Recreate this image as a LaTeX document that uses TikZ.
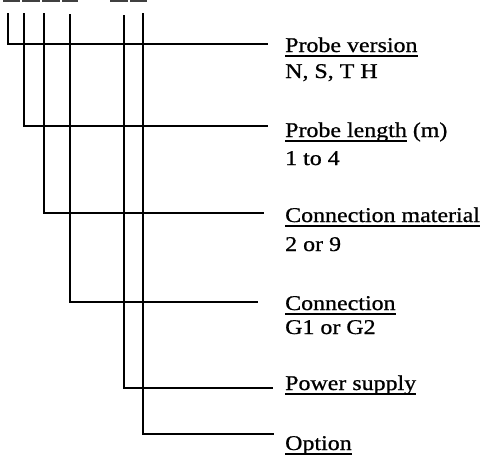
\documentclass[tikz,border=0pt]{standalone}
\usepackage{fontspec}
\setmainfont{Liberation Serif}[FakeStretch=1.14,FakeBold=0.8]
\newcommand{\ulabel}[1]{\setbox0\hbox{#1}\rlap{\rule[-4.5pt]{\wd0}{1.6pt}}\box0\relax}
\begin{document}
\begin{tikzpicture}[x=1pt,y=-1pt,
  conn/.style={line width=1.7pt, line cap=rect},
  lbl/.style={anchor=base west, inner sep=0pt, font=\fontsize{21}{24}\selectfont},
  frag/.style={fill=black!75}]
\useasboundingbox (0,0) rectangle (480,464);
% cut-off fragments at the top edge
\fill[frag] (3,0) rectangle (20,2.2);
\fill[frag] (22,0) rectangle (40,2.2);
\fill[frag] (42,0) rectangle (60,2.2);
\fill[frag] (62,0) rectangle (78,2.2);
\fill[frag] (110,0) rectangle (128,2.2);
\fill[frag] (130,0) rectangle (147,2.2);
% labels
\node[lbl] (v1) at (285,52) {\ulabel{Probe version}};
\node[lbl] (v1b) at (285,78) {N, S, T H};
\node[lbl] (v2) at (285,137) {\ulabel{Probe length} (m)};
\node[lbl] (v2b) at (285,165) {1 to 4};
\node[lbl] (v3) at (285,222) {\ulabel{Connection material}};
\node[lbl] (v3b) at (285,251) {2 or 9};
\node[lbl] (v4) at (285,310) {\ulabel{Connection}};
\node[lbl] (v4b) at (285,334) {G1 or G2};
\node[lbl] (v5) at (285,390) {\ulabel{Power supply}};
\node[lbl] (v6) at (285,450) {\ulabel{Option}};
% connector endpoints
\coordinate (t1) at (8,14);   \coordinate (e1) at (267,44);
\coordinate (t2) at (24,14);  \coordinate (e2) at (267,126);
\coordinate (t3) at (44,14);  \coordinate (e3) at (263,213);
\coordinate (t4) at (70,15);  \coordinate (e4) at (257,302);
\coordinate (t5) at (124,16); \coordinate (e5) at (272,388);
\coordinate (t6) at (143,14); \coordinate (e6) at (273,434);
\draw[conn] (t1) |- (e1);
\draw[conn] (t2) |- (e2);
\draw[conn] (t3) |- (e3);
\draw[conn] (t4) |- (e4);
\draw[conn] (t5) |- (e5);
\draw[conn] (t6) |- (e6);
\end{tikzpicture}
\end{document}
